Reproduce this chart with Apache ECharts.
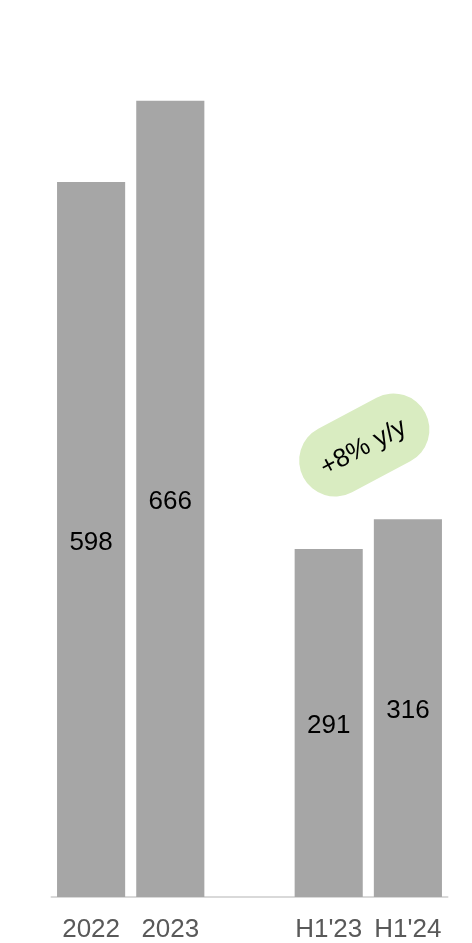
<!DOCTYPE html>
<html>
<head>
<meta charset="utf-8">
<script src="https://cdn.jsdelivr.net/npm/echarts@6/dist/echarts.min.js"></script>
<style>
  html, body { margin: 0; padding: 0; background: #ffffff; }
  #chart { width: 472px; height: 943px; }
</style>
</head>
<body>
<div id="chart"></div>
<script>
// Annual and half-year totals; the empty category separates the two groups
const categories = ['2022', '2023', '', "H1'23", "H1'24"];
const values = [598, 666, null, 291, 316];
const growthLabel = '+8% y/y';
const growthAnchorValue = 378;

const FONT = '"Liberation Sans", Arial, sans-serif';
const chart = echarts.init(document.getElementById('chart'));

chart.setOption({
  animation: false,
  grid: { left: 51.5, right: 24.5, top: 60, bottom: 46 },
  xAxis: {
    type: 'category',
    data: categories,
    axisLine: { show: true, lineStyle: { color: '#d9d9d9', width: 2 } },
    axisTick: { show: false },
    axisLabel: {
      color: '#595959',
      fontFamily: FONT,
      fontSize: 26,
      margin: 20,
      interval: 0
    }
  },
  yAxis: {
    type: 'value',
    min: 0,
    max: 700,
    show: false,
    splitLine: { show: false }
  },
  series: [{
    type: 'bar',
    data: values,
    barWidth: '86%',
    itemStyle: { color: '#a6a6a6' },
    label: {
      show: true,
      position: 'inside',
      offset: [0, 3],
      color: '#000000',
      fontFamily: FONT,
      fontSize: 26
    }
  }]
});

// Growth badge placed between the two half-year bars
const p1 = chart.convertToPixel({ gridIndex: 0 }, ["H1'23", growthAnchorValue]);
const p2 = chart.convertToPixel({ gridIndex: 0 }, ["H1'24", growthAnchorValue]);
const cx = (p1[0] + p2[0]) / 2 - 4;
const cy = p1[1];
const w = 138, h = 72;

chart.setOption({
  graphic: [{
    type: 'group',
    x: cx,
    y: cy,
    rotation: 28 * Math.PI / 180,
    children: [{
      type: 'rect',
      shape: { x: -w / 2, y: -h / 2, width: w, height: h, r: h / 2 },
      style: { fill: '#d9ecc1' }
    }, {
      type: 'text',
      x: -2,
      y: 2,
      style: {
        text: growthLabel,
        fill: '#000000',
        font: '26px ' + FONT,
        align: 'center',
        verticalAlign: 'middle'
      }
    }]
  }]
});
</script>
</body>
</html>
